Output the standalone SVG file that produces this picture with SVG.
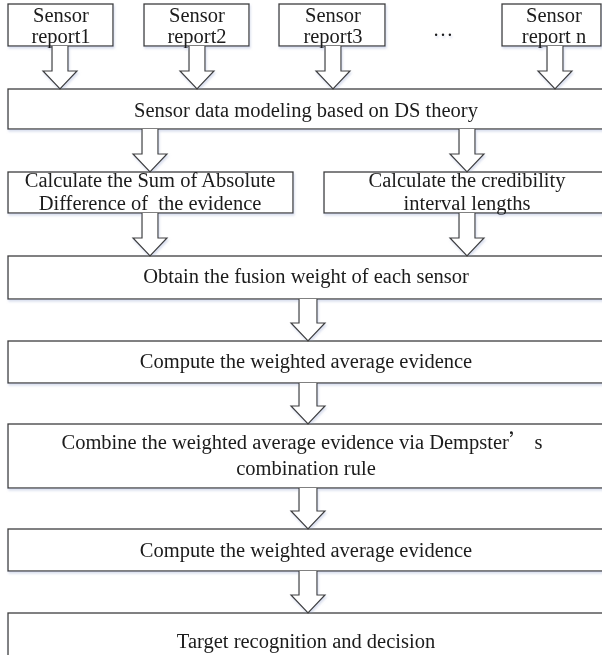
<svg xmlns="http://www.w3.org/2000/svg" width="602" height="655" viewBox="0 0 602 655">
<defs>
<filter id="sh" x="-5%" y="-20%" width="110%" height="140%">
<feDropShadow dx="1" dy="2" stdDeviation="1.2" flood-color="#b9c3e0" flood-opacity="0.55"/>
</filter>
</defs>
<style>
.box{fill:#fff;stroke:#3c3c3c;stroke-width:1.3}
.arr{fill:#fff;stroke:#3c3c3c;stroke-width:1.2;stroke-linejoin:miter}
.t{font-family:"Liberation Serif","Times New Roman","Noto Sans CJK SC",serif;font-size:20.5px;fill:#1a1a1a;text-anchor:middle}
.cjk{font-family:"Noto Sans CJK SC",sans-serif}
</style>
<rect width="602" height="655" fill="#fff"/>
<g filter="url(#sh)">
<g id="s1"><rect class="box" x="8" y="4" width="105" height="42"/><text class="t" x="61" y="22">Sensor</text><text class="t" x="61" y="43">report1</text></g>
<g id="s2"><rect class="box" x="144" y="4" width="105" height="42"/><text class="t" x="197" y="22">Sensor</text><text class="t" x="197" y="43">report2</text></g>
<g id="s3"><rect class="box" x="279" y="4" width="106" height="42"/><text class="t" x="333" y="22">Sensor</text><text class="t" x="333" y="43">report3</text></g>
<g id="dots"><text class="t" x="443" y="36">…</text></g>
<g id="sn"><rect class="box" x="502" y="4" width="99" height="42"/><text class="t" x="554" y="22">Sensor</text><text class="t" x="554" y="43">report n</text></g>
<g id="model"><rect class="box" x="8" y="89" width="596" height="40"/><text class="t" x="306" y="117">Sensor data modeling based on DS theory</text></g>
<g id="sad"><rect class="box" x="8" y="172" width="285" height="41"/><text class="t" x="150" y="187">Calculate the Sum of Absolute</text><text class="t" x="150" y="210" xml:space="preserve">Difference of  the evidence</text></g>
<g id="cred"><rect class="box" x="324" y="172" width="290" height="41"/><text class="t" x="467" y="187">Calculate the credibility</text><text class="t" x="467" y="210">interval lengths</text></g>
<g id="obtain"><rect class="box" x="8" y="256" width="596" height="43"/><text class="t" x="306" y="283">Obtain the fusion weight of each sensor</text></g>
<g id="compute1"><rect class="box" x="8" y="341" width="596" height="42"/><text class="t" x="306" y="368">Compute the weighted average evidence</text></g>
<g id="combine"><rect class="box" x="8" y="424" width="596" height="64"/><text class="t" x="302" y="449">Combine the weighted average evidence via Dempster<tspan class="cjk">’</tspan> s</text><text class="t" x="306" y="475">combination rule</text></g>
<g id="compute2"><rect class="box" x="8" y="529" width="596" height="42"/><text class="t" x="306" y="557">Compute the weighted average evidence</text></g>
<g id="target"><rect class="box" x="8" y="613" width="596" height="50"/><text class="t" x="306" y="648">Target recognition and decision</text></g>
<g id="connectors">
<path class="arr" d="M52,46 V71 H43 L60,89 L77,71 H68 V46"/>
<path class="arr" d="M189,46 V71 H180 L197,89 L214,71 H205 V46"/>
<path class="arr" d="M325,46 V71 H316 L333,89 L350,71 H341 V46"/>
<path class="arr" d="M547,46 V71 H538 L555,89 L572,71 H563 V46"/>
<path class="arr" d="M142,129 V154 H133 L150,172 L167,154 H158 V129"/>
<path class="arr" d="M459,129 V154 H450 L467,172 L484,154 H475 V129"/>
<path class="arr" d="M142,213 V238 H133 L150,256 L167,238 H158 V213"/>
<path class="arr" d="M459,213 V238 H450 L467,256 L484,238 H475 V213"/>
<path class="arr" d="M299,299 V323 H291 L308,341 L325,323 H317 V299"/>
<path class="arr" d="M299,383 V406 H291 L308,424 L325,406 H317 V383"/>
<path class="arr" d="M299,488 V511 H291 L308,529 L325,511 H317 V488"/>
<path class="arr" d="M299,571 V595 H291 L308,613 L325,595 H317 V571"/>
</g>
</g>
</svg>
